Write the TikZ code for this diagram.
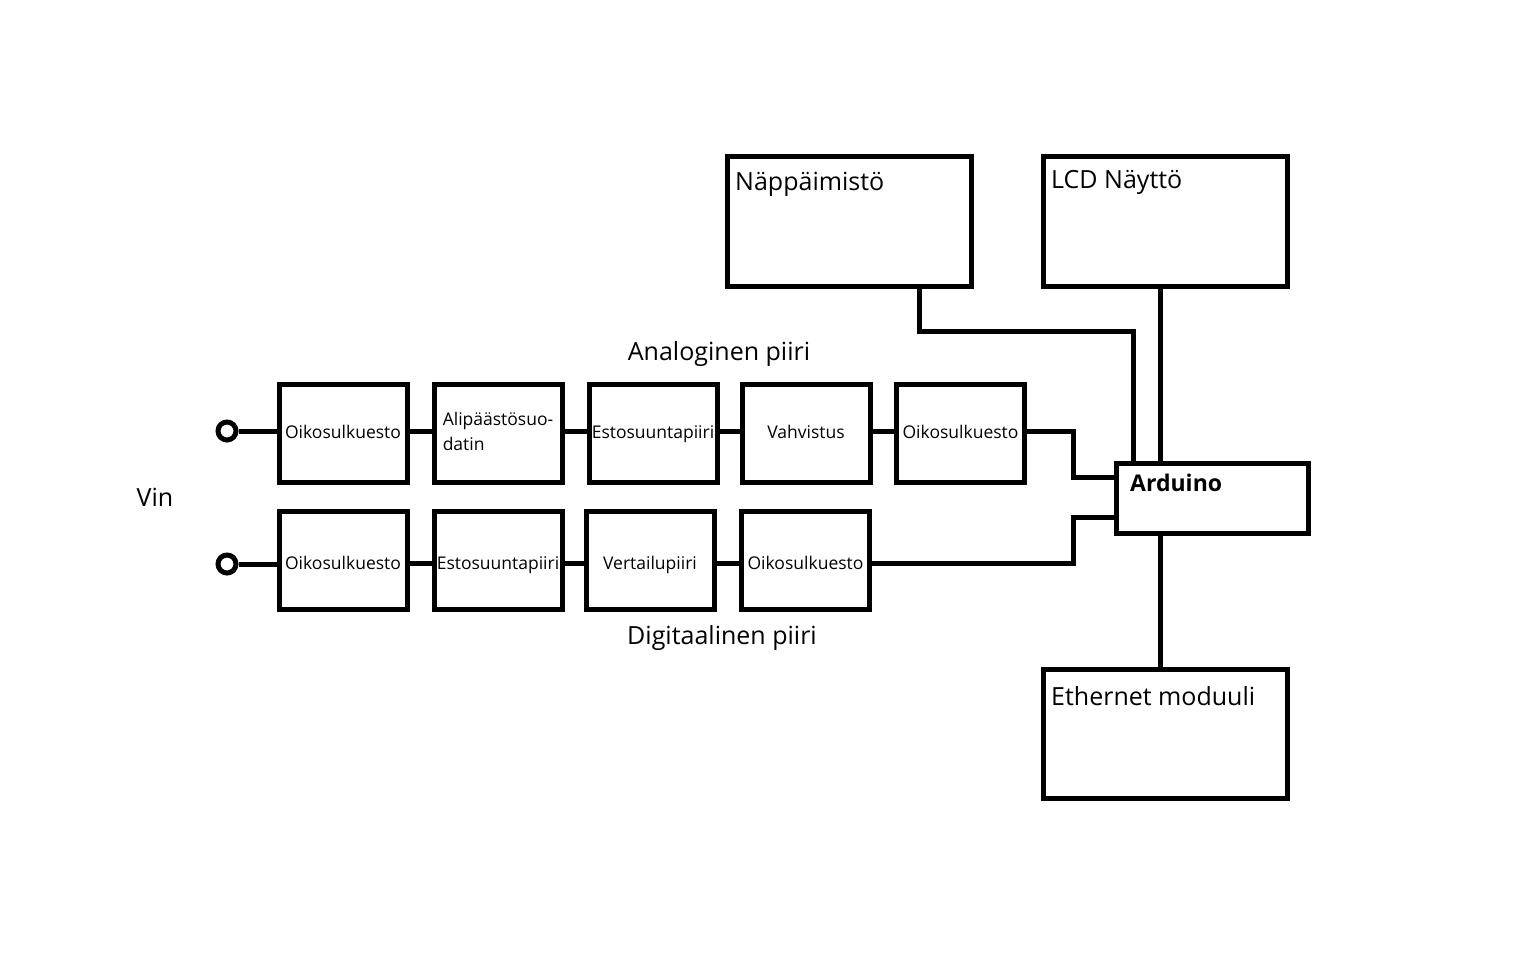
\documentclass[tikz,border=0pt]{standalone}
\usepackage{fontspec}
\setmainfont{Open Sans}
\begin{document}
\begin{tikzpicture}[x=1pt,y=-1pt,
  blk/.style={draw,line width=5pt,rectangle,inner sep=0pt,minimum width=128pt,minimum height=98pt,font=\fontsize{17.5}{25}\selectfont,align=left,text height=14pt,text depth=3pt},
  dblk/.style={blk,text height=19pt,text depth=0pt},
  big/.style={draw,line width=5pt,rectangle,inner sep=0pt,minimum width=244pt,minimum height=129pt},
  term/.style={draw,line width=5pt,circle,inner sep=0pt,minimum size=18pt,fill=white},
  wire/.style={line width=5pt},
  hd/.style={font=\fontsize{25}{30}\selectfont,inner sep=0pt}]
\useasboundingbox (0,0) rectangle (1536,960);
% analog row
\node[blk] (a1) at (343,433) {Oikosulkuesto};
\node[blk,text height=,text depth=] (a2) at (498,433) {\strut Alipäästösuo-\\\strut datin};
\node[blk] (a3) at (653,433) {Estosuuntapiiri};
\node[blk] (a4) at (806,433) {Vahvistus};
\node[blk] (a5) at (960.5,433) {Oikosulkuesto};
% digital row
\node[dblk] (d1) at (343,560) {Oikosulkuesto};
\node[dblk] (d2) at (498,560) {Estosuuntapiiri};
\node[dblk] (d3) at (650,560) {Vertailupiiri};
\node[dblk] (d4) at (805.5,560) {Oikosulkuesto};
% terminals
\node[term] (ca) at (227,431) {};
\node[term] (cd) at (227,564) {};
% big boxes
\node[big] (kb) at (849,221.5) {};
\node[big] (lcd) at (1165,221.5) {};
\node[big] (eth) at (1165,733.5) {};
\node[draw,line width=5pt,rectangle,inner sep=0pt,minimum width=192pt,minimum height=70pt] (ard) at (1212,498) {};
% labels
\node[hd,anchor=west] (kbt) at (735,184) {Näppäimistö};
\node[hd,anchor=west] (lcdt) at (1051,182) {LCD Näyttö};
\node[hd,anchor=west] (etht) at (1051,696) {Ethernet moduuli};
\node[hd,anchor=west,font=\fontsize{23}{28}\selectfont\bfseries] (ardt) at (1130,483) {Arduino};
\node[hd] (an) at (719,354) {Analoginen piiri};
\node[hd] (dg) at (722,638) {Digitaalinen piiri};
\node[hd] (vin) at (155,497) {Vin};
% wires
\draw[wire] (ca.east) -- (ca.east -| a1.west);
\draw[wire] (cd.east) -- (cd.east -| d1.west);
\draw[wire] ([yshift=2pt]a1.east) -- ([yshift=2pt]a2.west);
\draw[wire] ([yshift=2pt]a2.east) -- ([yshift=2pt]a3.west);
\draw[wire] ([yshift=2pt]a3.east) -- ([yshift=2pt]a4.west);
\draw[wire] ([yshift=2pt]a4.east) -- ([yshift=2pt]a5.west);
\draw[wire] ([yshift=-3pt]d1.east) -- ([yshift=-3pt]d2.west);
\draw[wire] ([yshift=-3pt]d2.east) -- ([yshift=-3pt]d3.west);
\draw[wire] ([yshift=-3pt]d3.east) -- ([yshift=-3pt]d4.west);
\coordinate (ja) at (1073,0);
\draw[wire] ([yshift=2pt]a5.east) -- ([yshift=2pt]a5.east -| ja) |- ([yshift=21pt]ard.west);
\draw[wire] ([yshift=-3pt]d4.east) -- ([yshift=-3pt]d4.east -| ja) |- ([yshift=-19pt]ard.west);
\coordinate (kr) at (1133,331);
\draw[wire] ([xshift=70pt]kb.south) |- (kr) -- (kr |- ard.north);
\coordinate (vx) at (1160,0);
\draw[wire] (lcd.south -| vx) -- (ard.north -| vx);
\draw[wire] (ard.south -| vx) -- (eth.north -| vx);
\end{tikzpicture}
\end{document}
